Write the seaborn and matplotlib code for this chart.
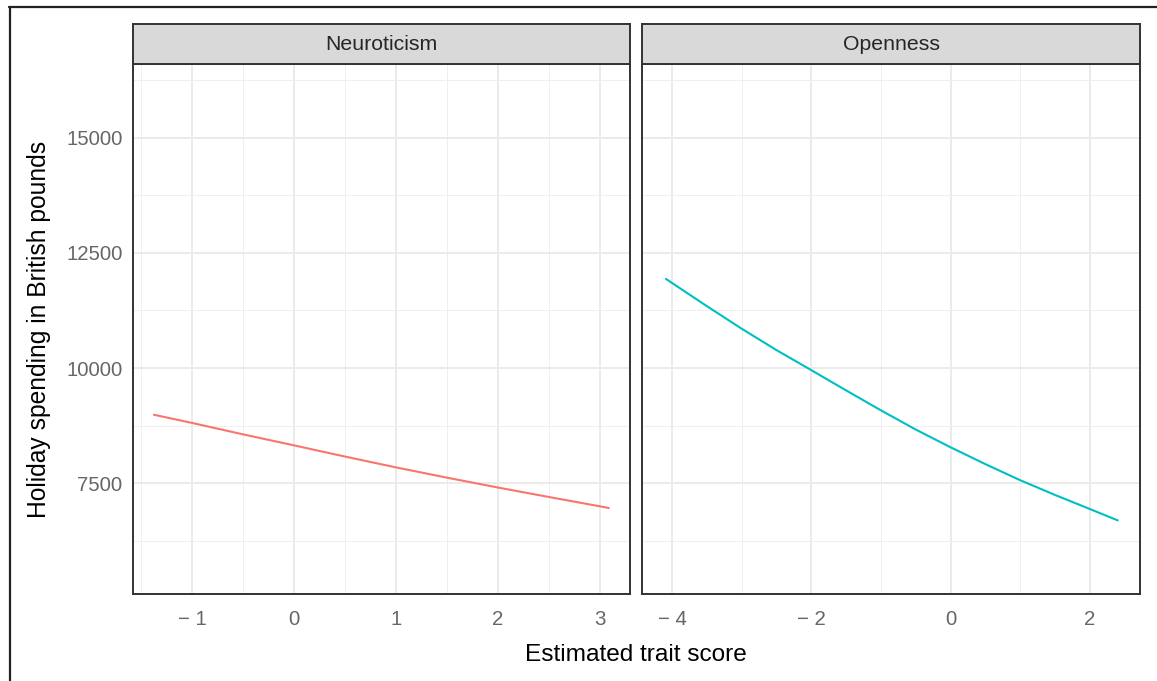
import matplotlib
matplotlib.use("Agg")
import matplotlib.pyplot as plt
from matplotlib.lines import Line2D
from matplotlib.ticker import FixedLocator
import seaborn as sns
import pandas as pd

# ---- data ----
neuro_x = [-1.375, -1.0, -0.5, 0.0, 0.5, 1.0, 1.5, 2.0, 2.5, 3.0, 3.086]
neuro_y = [8986, 8808, 8560, 8321, 8078, 7843, 7620, 7406, 7200, 6998, 6962]
open_x = [-4.086, -4.0, -3.5, -3.0, -2.5, -2.0, -1.5, -1.0, -0.5, 0.0,
          0.5, 1.0, 1.5, 2.0, 2.40]
open_y = [11935, 11848, 11345, 10855, 10390, 9955, 9515, 9082, 8665, 8280,
          7914, 7565, 7245, 6940, 6693]
facets = ["Neuroticism", "Openness"]
facet_colors = ["#F8766D", "#00BFC4"]
y_major = [7500, 10000, 12500, 15000]
y_minor = [6250, 8750, 11250, 13750, 16250]
x_major = [[-1, 0, 1, 2, 3], [-4, -2, 0, 2]]
x_minor = [[-1.5, -0.5, 0.5, 1.5, 2.5], [-3, -1, 1]]
x_lims = [(-1.58, 3.294), (-4.43, 2.72)]
y_lim = (5095, 16600)
x_title = "Estimated trait score"
y_title = "Holiday spending in British pounds"

df = pd.concat([
    pd.DataFrame({"x": neuro_x, "y": neuro_y, "trait": facets[0]}),
    pd.DataFrame({"x": open_x, "y": open_y, "trait": facets[1]}),
], ignore_index=True)

sns.set_theme(style="white")
plt.rcParams["font.family"] = ["Liberation Sans", "DejaVu Sans"]
plt.rcParams["axes.unicode_minus"] = True

W, H = 1157, 681
fig = plt.figure(figsize=(W / 100, H / 100), dpi=100)
fig.patch.set_facecolor("white")

def fx(px):
    return px / W

def fy(py):
    return 1 - py / H

panels = [(133, 630), (642, 1140)]
ptop, pbot, stop = 64, 594, 24
dark = "#333333"
tick_gray = "#666666"

for i, (l, r) in enumerate(panels):
    ax = fig.add_axes([fx(l), fy(pbot), fx(r) - fx(l), fy(ptop) - fy(pbot)])
    sub = df[df["trait"] == facets[i]]
    sns.lineplot(data=sub, x="x", y="y", ax=ax, color=facet_colors[i],
                 linewidth=1.5, legend=False)
    ax.set_xlim(*x_lims[i])
    ax.set_ylim(*y_lim)
    ax.xaxis.set_major_locator(FixedLocator(x_major[i]))
    ax.xaxis.set_minor_locator(FixedLocator(x_minor[i]))
    ax.yaxis.set_major_locator(FixedLocator(y_major))
    ax.yaxis.set_minor_locator(FixedLocator(y_minor))
    ax.grid(True, which="major", color="#EBEBEB", linewidth=1.4)
    ax.grid(True, which="minor", color="#EFEFEF", linewidth=0.7)
    ax.set_axisbelow(True)
    for s in ax.spines.values():
        s.set_color(dark)
        s.set_linewidth(1.4)
    ax.tick_params(axis="both", which="major", direction="out", length=3.6,
                   width=1.1, color=dark, labelcolor=tick_gray, labelsize=14.7,
                   pad=4)
    ax.tick_params(axis="x", which="major", pad=8)
    ax.tick_params(axis="both", which="minor", length=0)
    ax.set_xlabel("")
    ax.set_ylabel("")
    ax.set_xticklabels([f"{v:g}".replace("-", "\u2212 ") for v in x_major[i]])
    if i == 0:
        ax.set_yticklabels([str(v) for v in y_major])
    else:
        ax.tick_params(axis="y", which="both", left=False, labelleft=False)

    sax = fig.add_axes([fx(l), fy(ptop), fx(r) - fx(l), fy(stop) - fy(ptop)])
    sax.set_facecolor("#D9D9D9")
    sax.set_xticks([])
    sax.set_yticks([])
    for s in sax.spines.values():
        s.set_color(dark)
        s.set_linewidth(1.4)
    sax.text(0.5, 0.5, facets[i], ha="center", va="center", fontsize=15.3,
             color="#262626", transform=sax.transAxes)

fig.text(fx(636), fy(655), x_title, ha="center", va="center", fontsize=17.6,
         color="black")
fig.text(fx(39), fy(329), y_title, ha="center", va="center", fontsize=17.7,
         rotation=90, color="black")

# outer frame lines (top and left)
fig.add_artist(Line2D([fx(9), fx(1157)], [fy(7), fy(7)], color="#222222",
                      linewidth=1.6, transform=fig.transFigure))
fig.add_artist(Line2D([fx(9.5), fx(9.5)], [fy(7), fy(681)], color="#222222",
                      linewidth=1.6, transform=fig.transFigure))

fig.savefig("out.png", dpi=100, facecolor="white")
